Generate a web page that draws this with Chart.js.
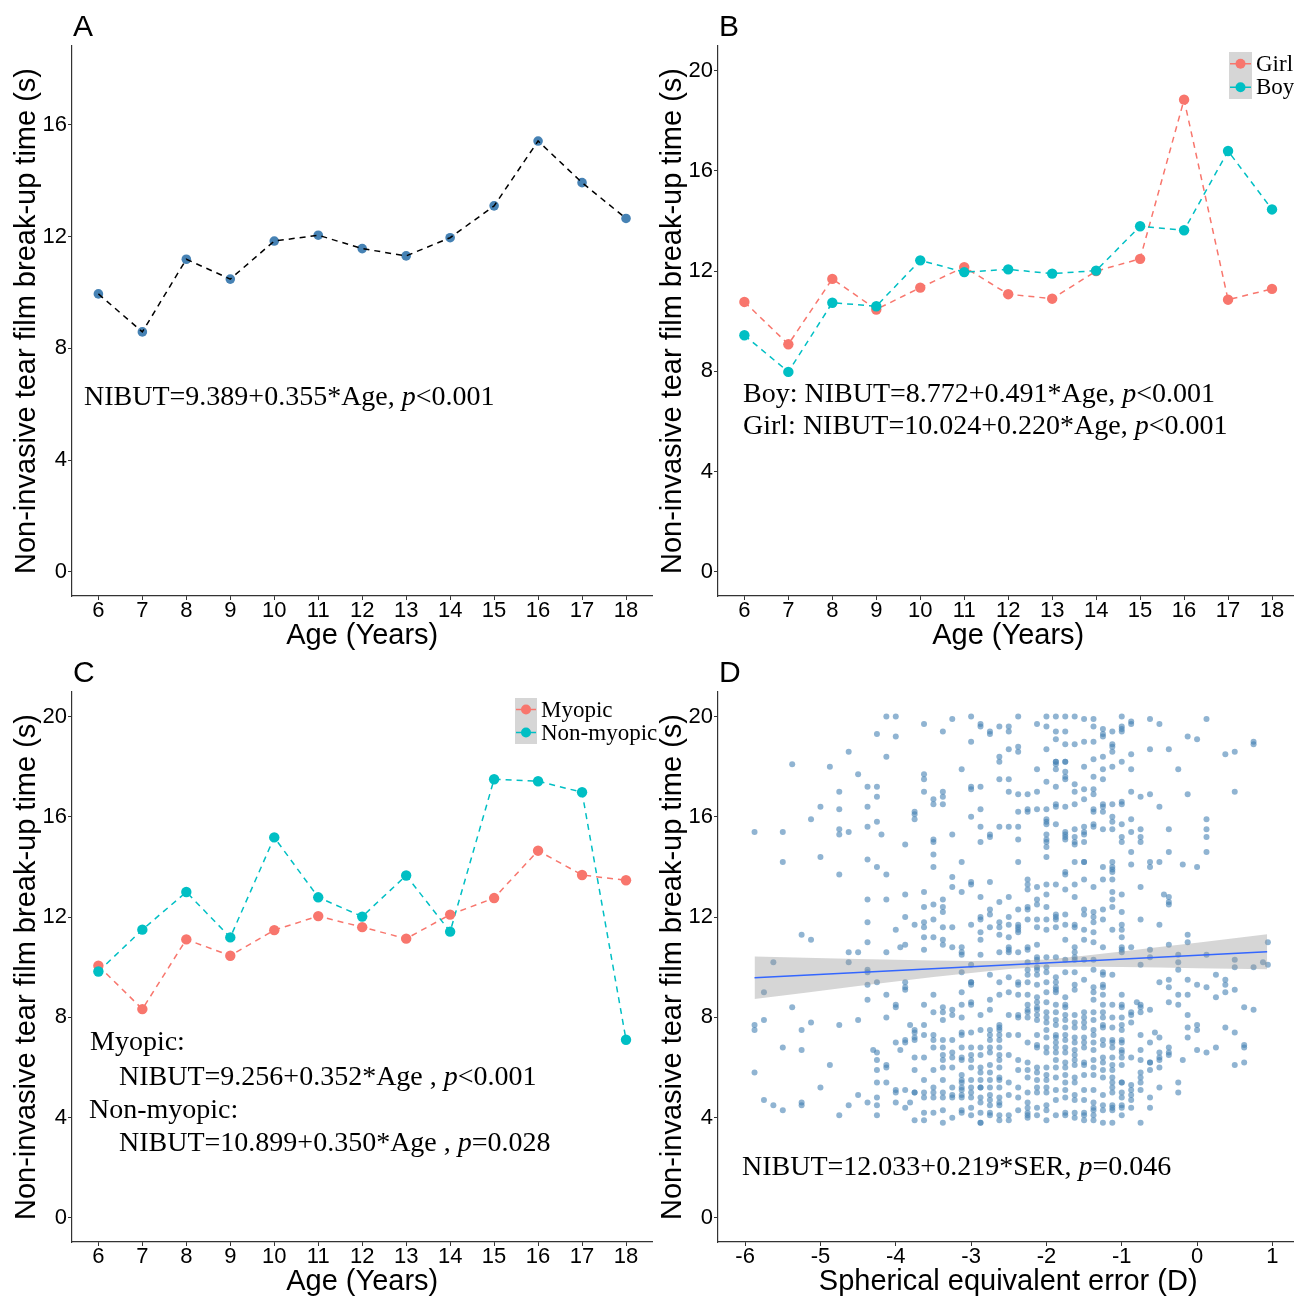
<!DOCTYPE html>
<html>
<head>
<meta charset="utf-8">
<title>NIBUT by age, sex, myopia and SER</title>
<script src="https://cdn.jsdelivr.net/npm/chart.js@4.4.1/dist/chart.umd.min.js"></script>
<style>
    html, body { margin: 0; padding: 0; background: #fff; }
    body { width: 1294px; height: 1296px; overflow: hidden; position: relative; }
    canvas { position: absolute; }
</style>
</head>
<body>
<canvas id="panelA" width="660" height="660" style="left:0px;top:0px;"></canvas>
<canvas id="panelB" width="660" height="660" style="left:646px;top:0px;"></canvas>
<canvas id="panelC" width="660" height="660" style="left:0px;top:646px;"></canvas>
<canvas id="panelD" width="660" height="660" style="left:646px;top:646px;"></canvas>
<script>
// ---- data ----
const ages = [6, 7, 8, 9, 10, 11, 12, 13, 14, 15, 16, 17, 18];
const nibutAll = [9.95, 8.59, 11.19, 10.48, 11.84, 12.05, 11.57, 11.31, 11.96, 13.10, 15.42, 13.93, 12.65];
const nibutGirl = [10.77, 9.08, 11.69, 10.47, 11.34, 12.16, 11.08, 10.90, 12.00, 12.49, 18.84, 10.86, 11.29];
const nibutBoy = [9.44, 7.98, 10.74, 10.60, 12.43, 11.96, 12.07, 11.90, 12.02, 13.79, 13.63, 16.79, 14.46];
const nibutMyopic = [10.06, 8.33, 11.11, 10.46, 11.48, 12.04, 11.60, 11.14, 12.10, 12.76, 14.65, 13.68, 13.47];
const nibutNonMyopic = [9.83, 11.50, 13.00, 11.19, 15.18, 12.79, 12.02, 13.66, 11.42, 17.50, 17.42, 16.98, 7.11];

const sexGroups = ['Girl', 'Boy'];
const myopiaGroups = ['Myopic', 'Non-myopic'];

// panel D: individual eyes, grouped by SER column
const serValues = [-5.875, -5.75, -5.625, -5.5, -5.375, -5.25, -5.125, -5.0, -4.875, -4.75, -4.625, -4.5,
    -4.375, -4.3, -4.25, -4.19, -4.125, -4.0, -3.94, -3.875, -3.81, -3.75, -3.625, -3.5, -3.375, -3.25,
    -3.125, -3.0, -2.875, -2.75, -2.625, -2.5, -2.375, -2.25, -2.125, -2.0, -1.875, -1.75, -1.625, -1.5,
    -1.375, -1.25, -1.125, -1.0, -0.875, -0.8, -0.75, -0.625, -0.56, -0.5, -0.44, -0.375, -0.25, -0.19,
    -0.125, 0, 0.125, 0.25, 0.375, 0.5, 0.625, 0.75, 0.875, 0.94];
const nibutBySer = [
    [15.4, 7.7, 7.5, 5.8],
    [9.0, 7.9, 4.7],
    [10.2, 4.5],
    [15.4, 14.2, 6.8, 4.3],
    [18.1, 8.4],
    [11.3, 7.5, 6.7, 4.6, 4.5],
    [15.9, 11.1, 7.8],
    [16.4, 14.4, 5.2],
    [18.0, 6.1],
    [17.0, 16.3, 15.5, 15.3, 13.7, 7.7, 4.1],
    [18.6, 15.4, 10.6, 10.2, 4.5],
    [17.7, 10.6, 7.9, 4.9],
    [17.2, 16.4, 15.6, 14.3, 12.7, 11.8, 11.0, 9.9, 9.8, 9.3, 8.7, 4.6],
    [6.7],
    [19.3, 17.2, 16.8, 15.8, 14.0, 9.4, 6.6, 6.3, 5.9, 5.4, 4.8, 4.5, 4.1],
    [15.3],
    [20.0, 18.4, 13.7, 12.7, 10.6, 8.9, 8.0, 6.1, 6.0, 5.4],
    [20.0, 19.2, 11.5, 8.5, 8.4, 7.0, 5.1, 5.0, 4.6],
    [10.8, 6.7],
    [14.9, 12.9, 12.0, 10.9, 9.4, 9.2, 9.1, 7.1, 7.0, 5.1, 4.4],
    [7.7, 4.6],
    [16.2, 16.1, 15.9, 11.7, 7.5, 7.4, 7.2, 7.1, 6.4, 5.9, 5.0, 5.0, 3.9],
    [19.7, 17.7, 17.5, 17.0, 13.0, 12.4, 11.8, 11.6, 11.2, 10.7, 8.5, 7.7, 7.3, 6.4, 5.5, 5.0, 4.8, 4.2, 3.9],
    [16.7, 16.5, 15.1, 15.0, 14.5, 14.0, 12.5, 11.9, 11.2, 8.9, 8.2, 7.3, 7.1, 6.8, 5.9, 5.2, 5.0, 4.8, 4.2],
    [19.4, 17.0, 16.8, 16.5, 12.7, 12.4, 12.2, 11.6, 11.1, 10.9, 8.4, 8.2, 7.9, 7.1, 6.8, 6.5, 6.3, 6.0, 5.5, 5.0, 4.8, 4.3, 3.8],
    [19.9, 15.3, 13.6, 13.2, 11.6, 10.8, 8.3, 8.1, 7.1, 6.6, 6.4, 6.0, 5.2, 4.9, 4.8, 4.0],
    [17.9, 14.2, 13.0, 10.8, 10.6, 10.5, 9.8, 9.0, 8.5, 8.0, 7.4, 7.3, 6.8, 6.4, 6.3, 5.7, 5.5, 5.4, 5.2, 5.1, 4.9, 4.8, 4.3, 4.2],
    [20.0, 19.0, 17.2, 17.1, 16.0, 13.4, 13.3, 11.7, 10.1, 9.4, 9.4, 9.3, 8.6, 8.5, 7.4, 6.8, 6.5, 6.3, 6.0, 5.5, 5.2, 5.0, 4.8, 4.4, 4.1],
    [19.7, 19.6, 17.2, 16.3, 15.6, 15.0, 12.8, 12.0, 11.9, 11.4, 11.1, 10.5, 8.1, 7.5, 6.8, 6.5, 6.0, 5.8, 5.5, 5.2, 5.2, 4.8, 4.6, 4.2, 3.8, 3.8],
    [19.4, 19.3, 15.3, 15.2, 13.4, 12.3, 12.1, 11.6, 9.7, 8.7, 8.3, 7.5, 7.3, 7.1, 6.8, 6.6, 6.1, 5.8, 5.5, 5.2, 4.9, 4.7, 4.5, 4.2, 4.1],
    [19.6, 18.4, 18.2, 17.5, 15.6, 12.6, 11.8, 11.6, 11.3, 10.6, 9.4, 8.9, 7.7, 7.6, 7.5, 7.3, 7.1, 6.8, 6.5, 6.3, 6.0, 5.6, 5.5, 5.2, 4.8, 4.6, 4.5, 4.1, 3.9],
    [19.6, 19.4, 18.7, 17.5, 17.0, 15.6, 12.8, 12.0, 11.7, 11.2, 10.8, 10.7, 10.6, 9.6, 9.0, 8.1, 7.3, 6.5, 5.4, 4.9, 4.1, 3.9],
    [20.0, 18.8, 18.6, 16.9, 16.2, 15.6, 15.1, 14.2, 12.3, 11.7, 11.6, 11.5, 11.4, 10.6, 9.4, 9.3, 8.9, 8.1, 8.0, 7.3, 6.3, 5.9, 5.2, 4.8, 4.3],
    [16.9, 16.3, 16.2, 13.5, 13.3, 13.1, 12.4, 12.3, 11.9, 10.8, 10.7, 10.2, 9.9, 9.7, 9.4, 8.9, 8.5, 8.3, 8.2, 8.0, 7.0, 6.2, 5.9, 5.6, 5.0, 4.6, 4.4, 4.2, 4.1, 4.0],
    [19.7, 17.9, 17.0, 16.3, 13.2, 12.7, 12.5, 11.9, 11.6, 10.9, 10.4, 10.3, 10.0, 9.9, 9.7, 9.3, 8.8, 8.6, 8.4, 8.3, 8.1, 7.9, 7.3, 6.9, 6.8, 6.0, 5.8, 5.5, 5.2, 5.0, 4.4, 4.1],
    [20.0, 19.6, 18.7, 17.4, 16.3, 15.9, 15.8, 15.7, 15.3, 15.1, 15.0, 14.8, 14.4, 13.3, 12.9, 12.4, 11.9, 11.5, 10.4, 10.0, 9.8, 9.4, 9.0, 8.6, 8.2, 8.0, 7.8, 7.5, 7.2, 6.8, 6.6, 6.0, 5.7, 5.5, 5.2, 5.0, 4.5, 4.3, 3.9],
    [20.0, 19.4, 19.1, 18.2, 18.2, 18.1, 17.9, 17.2, 16.5, 16.4, 15.7, 13.3, 12.1, 12.0, 11.9, 11.6, 10.4, 9.6, 9.4, 9.2, 9.1, 9.0, 8.5, 8.2, 7.9, 7.7, 7.3, 7.2, 7.0, 6.8, 6.6, 6.3, 6.0, 5.6, 5.1, 4.7, 4.1],
    [20.0, 19.4, 18.9, 18.2, 18.2, 17.8, 17.6, 17.5, 16.4, 15.4, 15.3, 15.2, 15.1, 13.8, 13.7, 13.1, 12.1, 11.7, 11.1, 10.3, 9.8, 8.8, 8.5, 8.4, 8.1, 7.9, 7.6, 7.3, 7.1, 6.8, 6.6, 6.2, 6.0, 5.7, 5.4, 5.1, 4.8, 4.2, 4.1],
    [20.0, 18.9, 17.3, 17.0, 16.5, 15.5, 15.2, 15.0, 14.9, 14.2, 13.3, 12.8, 11.7, 11.6, 10.8, 10.6, 10.4, 10.3, 9.8, 9.3, 9.1, 8.1, 7.8, 7.6, 7.2, 7.0, 6.7, 6.5, 6.3, 6.1, 5.6, 5.4, 4.9, 4.7, 4.2, 4.0],
    [19.9, 19.0, 18.0, 17.1, 16.7, 15.6, 15.4, 15.3, 15.0, 14.2, 14.2, 13.5, 12.3, 12.1, 11.5, 11.1, 10.3, 9.5, 8.2, 8.0, 7.8, 7.6, 7.2, 7.0, 6.8, 6.2, 6.1, 5.7, 5.1, 4.7, 4.2, 4.1, 3.9],
    [19.9, 19.6, 19.0, 18.3, 17.6, 17.1, 16.9, 16.3, 16.2, 15.7, 15.6, 13.2, 12.2, 12.0, 11.8, 11.4, 11.0, 10.3, 9.9, 9.2, 9.0, 8.7, 8.2, 7.9, 7.5, 7.3, 7.0, 6.7, 6.3, 6.0, 5.7, 5.1, 4.6, 4.4, 4.3, 4.1, 3.9],
    [19.5, 19.3, 19.2, 18.4, 17.9, 17.5, 16.5, 16.4, 16.2, 15.5, 14.0, 13.5, 12.3, 11.9, 10.8, 9.8, 9.7, 9.3, 9.2, 8.9, 8.5, 8.2, 8.0, 7.7, 7.6, 7.1, 6.9, 6.4, 6.2, 5.9, 5.6, 4.9, 4.5, 4.3, 3.8],
    [19.4, 18.9, 18.8, 18.6, 18.0, 16.5, 16.0, 15.8, 15.5, 14.2, 14.0, 13.9, 13.8, 13.5, 13.0, 12.7, 12.4, 11.5, 9.7, 8.5, 8.0, 7.6, 7.1, 7.0, 6.8, 6.4, 6.1, 5.9, 5.6, 5.4, 5.2, 5.0, 4.5, 4.4, 4.3, 3.8],
    [20.0, 19.6, 19.5, 19.4, 18.2, 16.6, 16.5, 15.7, 15.2, 15.0, 12.9, 12.2, 11.7, 11.5, 11.2, 10.8, 10.7, 10.6, 8.9, 8.5, 8.4, 8.0, 7.7, 7.5, 7.1, 7.0, 6.7, 6.6, 6.4, 6.1, 5.4, 5.4, 5.0, 4.8, 4.5, 4.4, 4.1],
    [19.8, 19.7, 18.5, 17.9, 17.0, 15.9, 15.4, 14.6, 14.1, 10.8, 8.2, 8.1, 7.8, 6.4, 5.3, 5.1, 4.9, 4.7, 4.4],
    [8.6],
    [16.8, 15.5, 15.2, 15.0, 13.2, 11.9, 10.1, 8.5, 8.4, 8.2, 7.3, 6.7, 6.3, 5.8, 5.6, 5.4, 5.1, 3.8],
    [19.9, 18.7, 16.9, 14.2, 14.0, 10.7, 10.4, 8.3, 7.0, 6.2, 6.2, 5.9, 4.8, 4.4],
    [7.4],
    [19.7, 16.4, 14.2, 11.7, 9.4, 7.2, 6.6, 6.4, 6.3, 6.0, 5.2],
    [12.9],
    [18.7, 15.5, 14.6, 12.8, 12.6, 12.5, 10.9, 9.5, 9.2, 8.6, 6.8, 6.6, 6.5],
    [17.9, 10.5, 10.2, 9.9, 8.9, 8.5, 5.4, 5.0],
    [14.1, 6.3],
    [19.2, 16.9, 11.3, 11.0, 9.5, 8.9, 8.1, 7.6, 7.2],
    [19.1, 14.0, 9.3, 7.7, 7.5, 6.7],
    [19.9, 15.9, 15.5, 15.2, 14.6, 10.5, 9.2, 6.6],
    [9.7, 8.8, 6.8],
    [18.5, 9.5, 9.3, 9.0, 7.6],
    [18.6, 17.0, 10.3, 10.0, 9.1, 7.4, 6.1],
    [8.4, 6.9, 6.8, 6.2],
    [19.0, 18.9, 10.0, 8.3],
    [10.2],
    [11.0, 10.1]
];

// fitted line and its confidence band, read at a few SER positions
const fitSer = [-5.875, 0.93];
const fitNibut = [9.58, 10.62];
const bandSer = [-5.875, -5.2, -4.5, -3.5, -3.0, -2.5, -2.0, -1.5, -1.0, -0.5, 0, 0.93];
const bandUpper = [10.43, 10.38, 10.33, 10.27, 10.25, 10.26, 10.31, 10.46, 10.63, 10.81, 10.98, 11.32];
const bandLower = [8.73, 8.98, 9.25, 9.61, 9.77, 9.93, 10.01, 10.02, 10.01, 9.99, 9.96, 9.92];

const ageTicks = [6, 7, 8, 9, 10, 11, 12, 13, 14, 15, 16, 17, 18];
const serTicks = [-6, -5, -4, -3, -2, -1, 0, 1];
const yTicksA = [0, 4, 8, 12, 16];
const yTicks = [0, 4, 8, 12, 16, 20];

// ---- styling ----
const SANS = '"Liberation Sans", Arial, Helvetica, sans-serif';
const SERIF = '"Liberation Serif", "Times New Roman", Times, serif';
const RED = '#F8766D';
const TEAL = '#00BFC4';
const STEEL = '#4682B4';
const Y_TITLE = 'Non-invasive tear film break-up time (s)';

const xy = (xs, ys) => xs.map((x, i) => ({ x: x, y: ys[i] }));

// draws panel letter, regression notes and the ggplot-like legend
const panelDecor = {
    id: 'panelDecor',
    afterDraw(chart, args, opts) {
        const ctx = chart.ctx;
        ctx.save();
        ctx.fillStyle = '#000';
        ctx.textBaseline = 'alphabetic';
        ctx.textAlign = 'left';
        ctx.font = '30px ' + SANS;
        ctx.fillText(opts.letter, 73, 36);

        (opts.notes || []).forEach(n => {
            let x = n.x;
            n.parts.forEach(p => {
                ctx.font = (p.italic ? 'italic ' : '') + '28px ' + SERIF;
                ctx.fillText(p.t, x, n.y);
                x += ctx.measureText(p.t).width;
            });
        });

        if (opts.legend) {
            const lg = opts.legend;
            ctx.fillStyle = '#d6d6d6';
            ctx.fillRect(lg.x, lg.y, lg.keyW, lg.rowH * lg.labels.length);
            lg.labels.forEach((label, i) => {
                const cy = lg.y + lg.rowH * i + lg.rowH / 2;
                ctx.strokeStyle = lg.colors[i];
                ctx.lineWidth = 1.5;
                ctx.beginPath();
                ctx.moveTo(lg.x + 1, cy);
                ctx.lineTo(lg.x + lg.keyW - 1, cy);
                ctx.stroke();
                ctx.fillStyle = lg.colors[i];
                ctx.beginPath();
                ctx.arc(lg.x + lg.keyW / 2, cy, 5, 0, Math.PI * 2);
                ctx.fill();
                ctx.fillStyle = '#000';
                ctx.font = '23px ' + SERIF;
                ctx.textBaseline = 'middle';
                ctx.fillText(label, lg.x + lg.keyW + 4, cy + 1);
            });
        }
        ctx.restore();
    }
};

function axis(min, max, ticks, title, isX) {
    return {
        type: 'linear',
        min: min,
        max: max,
        afterBuildTicks: s => { s.ticks = ticks.map(v => ({ value: v })); },
        afterFit: s => {
            if (isX) s.height = 56.4; else s.width = 72;
        },
        grid: { drawOnChartArea: false, drawTicks: true, tickLength: 4, color: '#333', tickColor: '#333' },
        border: { display: true, color: '#333', width: 1.2 },
        ticks: { color: '#000', font: { family: SANS, size: 22 }, padding: isX ? -2 : 1, maxRotation: 0, autoSkip: false },
        title: {
            display: true, text: title, color: '#000',
            font: { family: SANS, size: 29 },
            padding: isX ? { top: 0, bottom: -1 } : { top: 9.6, bottom: 0 }
        }
    };
}

function makePanel(id, datasets, xr, yr, xTicks, yTk, xTitle, decor) {
    return new Chart(document.getElementById(id), {
        type: 'scatter',
        data: { datasets: datasets },
        options: {
            responsive: false,
            animation: false,
            devicePixelRatio: 1,
            layout: { padding: { top: 46, left: 0, right: 7.6, bottom: 7.6 } },
            plugins: { legend: { display: false }, tooltip: { enabled: false }, panelDecor: decor },
            scales: {
                x: axis(xr[0], xr[1], xTicks, xTitle, true),
                y: axis(yr[0], yr[1], yTk, Y_TITLE, false)
            }
        },
        plugins: [panelDecor]
    });
}

function dashed(data, color) {
    return { data: data, showLine: true, borderColor: color, borderWidth: 1.5, borderDash: [6, 5], pointRadius: 0 };
}
function dots(data, color, r) {
    return { data: data, showLine: false, backgroundColor: color, borderWidth: 0, pointRadius: r };
}

// A: all children
makePanel('panelA', [
    dashed(xy(ages, nibutAll), '#000'),
    dots(xy(ages, nibutAll), STEEL, 4.8)
], [5.4, 18.6], [-0.86, 18.82], ageTicks, yTicksA, 'Age (Years)', {
    letter: 'A',
    notes: [{ x: 84, y: 405, parts: [{ t: 'NIBUT=9.389+0.355*Age, ' }, { t: 'p', italic: true }, { t: '<0.001' }] }]
});

// B: by sex
makePanel('panelB', [
    dots(xy(ages, nibutBoy), TEAL, 5.2),
    dots(xy(ages, nibutGirl), RED, 5.2),
    dashed(xy(ages, nibutBoy), TEAL),
    dashed(xy(ages, nibutGirl), RED)
], [5.4, 18.6], [-0.96, 20.98], ageTicks, yTicks, 'Age (Years)', {
    letter: 'B',
    notes: [
        { x: 97, y: 402, parts: [{ t: 'Boy: NIBUT=8.772+0.491*Age, ' }, { t: 'p', italic: true }, { t: '<0.001' }] },
        { x: 97, y: 434, parts: [{ t: 'Girl: NIBUT=10.024+0.220*Age, ' }, { t: 'p', italic: true }, { t: '<0.001' }] }
    ],
    legend: { x: 583, y: 52, keyW: 23, rowH: 23.5, labels: sexGroups, colors: [RED, TEAL] }
});

// C: by refractive status
makePanel('panelC', [
    dots(xy(ages, nibutNonMyopic), TEAL, 5.2),
    dots(xy(ages, nibutMyopic), RED, 5.2),
    dashed(xy(ages, nibutNonMyopic), TEAL),
    dashed(xy(ages, nibutMyopic), RED)
], [5.4, 18.6], [-0.96, 20.98], ageTicks, yTicks, 'Age (Years)', {
    letter: 'C',
    notes: [
        { x: 90, y: 404, parts: [{ t: 'Myopic:' }] },
        { x: 119, y: 439, parts: [{ t: 'NIBUT=9.256+0.352*Age , ' }, { t: 'p', italic: true }, { t: '<0.001' }] },
        { x: 89, y: 472, parts: [{ t: 'Non-myopic:' }] },
        { x: 119, y: 505, parts: [{ t: 'NIBUT=10.899+0.350*Age , ' }, { t: 'p', italic: true }, { t: '=0.028' }] }
    ],
    legend: { x: 515, y: 52, keyW: 22, rowH: 23, labels: myopiaGroups, colors: [RED, TEAL] }
});

// D: NIBUT vs spherical equivalent error
const serPoints = [];
serValues.forEach((s, i) => nibutBySer[i].forEach(v => serPoints.push({ x: s, y: v })));

makePanel('panelD', [
    { data: xy(fitSer, fitNibut), showLine: true, borderColor: '#3366FF', borderWidth: 1.6, pointRadius: 0 },
    { data: xy(bandSer, bandUpper), showLine: true, borderWidth: 0, pointRadius: 0, fill: '+1', backgroundColor: 'rgba(153,153,153,0.4)' },
    { data: xy(bandSer, bandLower), showLine: true, borderWidth: 0, pointRadius: 0 },
    { data: serPoints, showLine: false, backgroundColor: 'rgba(70,130,180,0.6)', borderWidth: 0, pointRadius: 3 }
], [-6.36, 1.345], [-0.96, 20.98], serTicks, yTicks, 'Spherical equivalent error (D)', {
    letter: 'D',
    notes: [{ x: 96, y: 529, parts: [{ t: 'NIBUT=12.033+0.219*SER, ' }, { t: 'p', italic: true }, { t: '=0.046' }] }]
});
</script>
</body>
</html>
